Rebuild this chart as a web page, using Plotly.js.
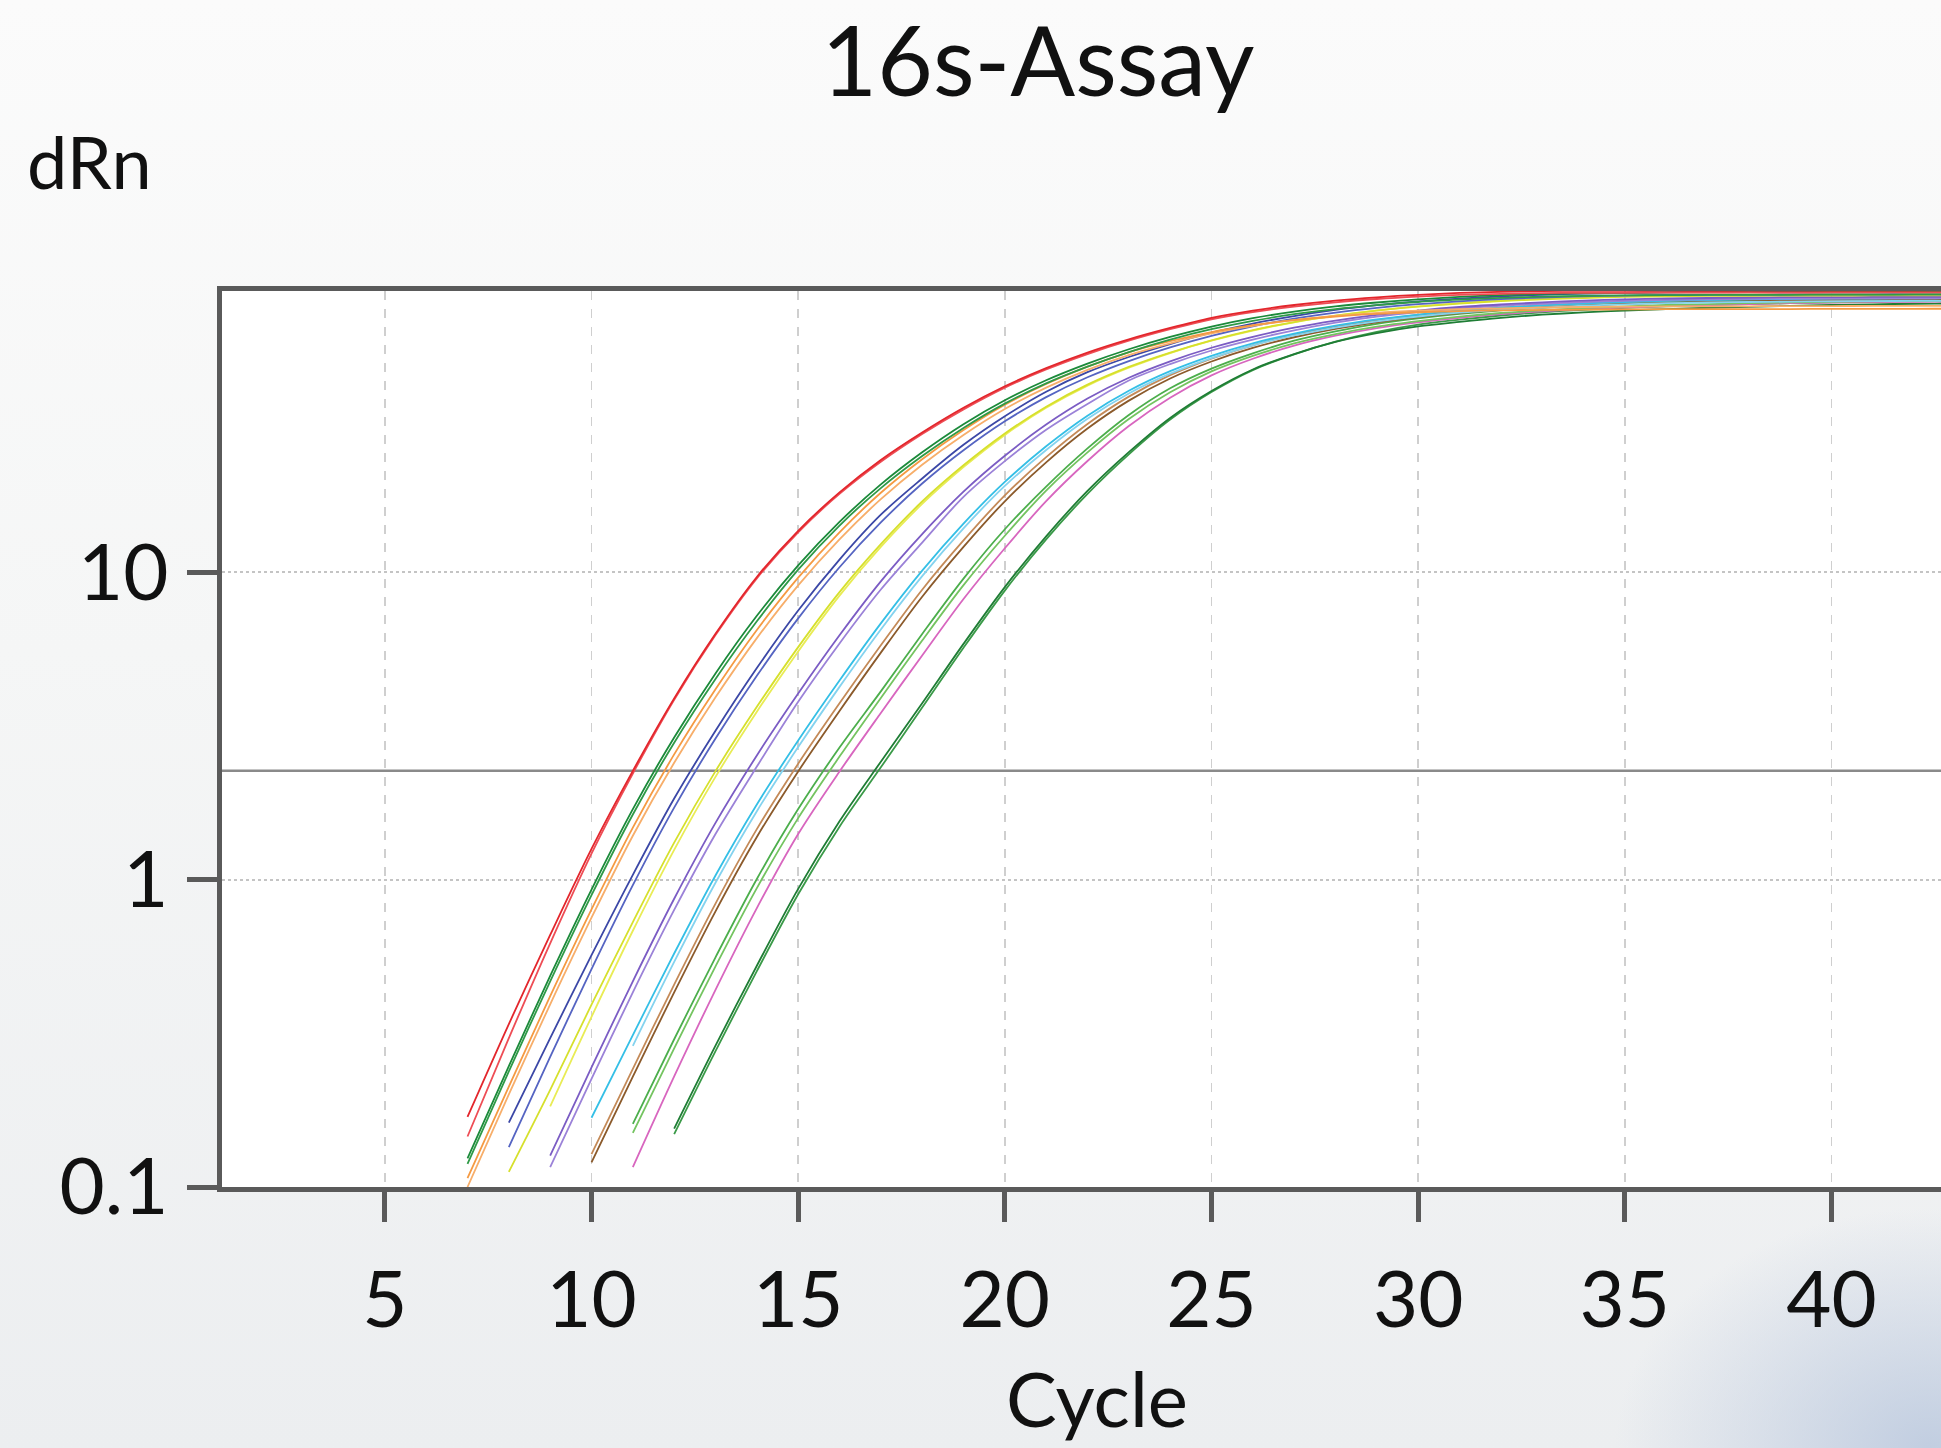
<!DOCTYPE html>
<html>
<head>
<meta charset="utf-8">
<script src="https://cdn.plot.ly/plotly-3.0.1.min.js"></script>
<style>
html, body { margin: 0; padding: 0; overflow: hidden; width: 1941px; height: 1448px; }
body {
  background:
    radial-gradient(ellipse 420px 320px at 1930px 1448px, rgba(186,200,222,0.85), rgba(186,200,222,0) 75%),
    linear-gradient(180deg, #fbfbfb 0%, #f5f6f6 45%, #eceef0 100%);
}
#chart { width: 2100px; height: 1448px; }
</style>
</head>
<body>
<div id="chart"></div>
<script>
// ---- data (dRn per cycle) ----
const cycleEnd = 44;
const threshold = 2.26;
const xTicks = [5, 10, 15, 20, 25, 30, 35, 40];
const xTickText = ['5', '10', '15', '20', '25', '30', '35', '40'];
const yTicks = [0.1, 1, 10];
const yTickText = ['0.1', '1', '10'];

const redA = [0.169,0.339,0.661,1.26,2.26,3.89,6.31,9.66,13.65,18.2,23.2,28.5,34.3,40.3,46.2,51.9,57.3,62.4,67.3,71.1,74.1,76.6,78.5,80.0,81.1,81.8,82.2,82.4,82.4,82.5,82.4,82.5,82.6,82.5,82.6,82.6,82.7,82.7];
const redB = [0.146,0.305,0.621,1.216,2.215,3.85,6.25,9.56,13.5,18.0,22.9,28.2,33.9,39.9,45.7,51.3,56.7,61.8,66.6,70.3,73.2,75.6,77.5,78.9,79.9,80.6,81.0,81.2,81.2,81.3,81.3,81.4,81.3,81.4,81.4,81.5,81.4,81.5];
const greenA = [0.124,0.2475,0.486,0.928,1.696,2.903,4.69,7.22,10.53,14.59,19.33,24.59,30.35,36.31,42.17,47.76,53.19,58.33,63.06,67.14,70.56,73.34,75.5,77.3,78.7,79.8,80.5,80.9,81.2,81.4,81.5,81.6,81.6,81.7,81.7,81.8,81.8,81.8];
const greenB = [0.119,0.238,0.467,0.891,1.63,2.79,4.50,6.93,10.2,14.2,18.8,23.9,29.5,35.4,41.2,46.7,52.1,57.2,61.8,65.8,69.2,71.9,74.0,75.8,77.1,78.2,78.9,79.3,79.6,79.8,79.9,80.0,80.0,80.1,80.1,80.2,80.2,80.2];
const orangeA = [0.1068,0.2123,0.4176,0.80,1.477,2.556,4.166,6.495,9.61,13.5,18.15,23.34,29.03,35.1,41.0,46.7,52.0,56.5,60.5,63.7,66.2,68.0,69.3,70.2,70.8,71.2,71.4,71.6,71.7,71.8,71.8,71.9,71.9,72.0,72.0,72.0,72.1,72.1];
const orangeB = [0.100,0.200,0.393,0.752,1.39,2.40,3.92,6.11,9.07,12.8,17.3,22.4,28.0,34.0,39.9,45.6,50.9,55.6,59.9,63.4,66.2,68.3,69.9,71.0,71.8,72.3,72.7,73.0,73.2,73.3,73.4,73.4,73.5,73.5,73.6,73.6,73.6,73.7];
const blueA = [0.162,0.305,0.568,1.037,1.836,3.05,4.88,7.51,11.0,15.4,20.2,26.0,32.2,38.7,44.8,50.2,55.3,60.2,64.5,68.2,71.4,74.0,76.1,77.7,79.0,80.0,80.7,81.1,81.5,81.6,81.7,81.8,81.8,81.9,81.9,81.9,81.9];
const blueB = [0.1348,0.2649,0.5116,0.9598,1.716,2.88,4.607,7.084,10.39,14.53,19.45,24.96,31.0,37.17,43.12,48.7,53.95,58.82,63.2,66.9,70.0,72.55,74.6,76.2,77.45,78.4,79.1,79.55,79.9,80.0,80.1,80.2,80.2,80.3,80.3,80.3,80.3];
const yellowA = [0.112,0.207,0.392,0.728,1.32,2.255,3.65,5.71,8.62,12.35,17.0,22.3,28.3,34.6,40.8,46.6,51.9,56.9,61.4,65.2,68.4,71.1,73.2,74.9,76.3,77.3,78.1,78.7,79.1,79.3,79.4,79.5,79.5,79.6,79.6,79.6,79.6];
const yellowB = [0.183,0.358,0.682,1.25,2.16,3.52,5.53,8.40,12.1,16.7,22.0,28.0,34.3,40.5,46.3,51.7,56.7,61.2,65.1,68.4,71.2,73.4,75.2,76.6,77.7,78.6,79.2,79.7,80.0,80.2,80.3,80.4,80.4,80.5,80.5,80.5];
const purpleA = [0.1265,0.2449,0.4671,0.8666,1.530,2.536,4.033,6.242,9.348,13.32,18.30,23.95,30.26,36.77,42.97,48.6,53.8,58.4,62.5,65.9,68.8,71.1,73.0,74.4,75.6,76.6,77.3,77.8,78.1,78.4,78.6,78.6,78.7,78.7,78.8,78.8];
const purpleB = [0.116,0.225,0.430,0.797,1.408,2.333,3.79,5.87,8.79,12.5,17.6,23.0,29.1,35.3,42.1,47.6,52.7,57.2,61.3,64.9,67.9,70.3,72.2,73.7,74.8,75.8,76.5,77.0,77.3,77.6,77.8,77.8,77.9,77.9,78.0,78.0];
const cyanA = [0.168,0.312,0.575,1.032,1.757,2.836,4.445,6.822,10.13,14.41,19.69,25.72,32.35,38.97,45.13,50.63,55.6,59.84,63.5,66.5,69.0,71.0,72.65,73.9,74.95,75.8,76.4,76.9,77.25,77.5,77.7,77.8,77.9,77.95,78.0];
const cyanB = [0.288,0.54,0.977,1.67,2.70,4.24,6.52,9.72,13.9,19.1,25.0,31.6,38.2,44.3,49.8,54.8,59.0,62.6,65.6,68.0,70.0,71.5,72.7,73.7,74.5,75.1,75.5,75.8,76.0,76.2,76.3,76.4,76.4,76.5];
const brownA = [0.1202,0.2287,0.4299,0.789,1.377,2.25,3.539,5.479,8.329,12.1,17.03,22.8,29.37,36.2,42.74,48.53,53.73,58.2,62.0,65.1,67.7,69.8,71.5,72.8,73.9,74.7,75.4,76.0,76.4,76.7,77.0,77.1,77.2,77.3,77.3];
const brownB = [0.128,0.2424,0.4557,0.836,1.46,2.385,3.75,5.79,8.78,12.7,17.8,23.7,30.4,37.3,43.8,49.6,54.8,59.3,63.1,66.2,68.8,70.9,72.6,73.9,75.0,75.8,76.5,77.1,77.5,77.8,78.1,78.2,78.3,78.4,78.4];
const ltGreenA = [0.1605,0.3025,0.559,1.005,1.697,2.691,4.098,6.30,9.54,13.81,19.0,25.3,32.5,39.7,46.0,51.6,56.7,60.8,64.3,67.0,69.3,71.2,72.6,73.8,74.8,75.6,76.1,76.6,77.1,77.4,77.7,77.8,78.0,78.1];
const ltGreenB = [0.150,0.2827,0.5223,0.939,1.586,2.515,3.903,5.999,9.085,13.15,18.45,24.57,31.54,38.53,45.05,50.6,55.6,59.6,63.0,65.65,67.95,69.8,71.2,72.4,73.3,74.1,74.6,75.1,75.6,75.9,76.2,76.3,76.5,76.6];
const pink = [0.116,0.229,0.438,0.808,1.408,2.248,3.487,5.366,8.19,11.98,17.05,23.03,29.93,37.01,43.74,49.54,54.65,58.86,62.35,65.05,67.3,69.2,70.7,71.8,72.75,73.5,74.1,74.6,75.1,75.45,75.7,75.9,76.0,76.1];
const dkGreenA = [0.1549,0.2884,0.5248,0.9333,1.549,2.42,3.75,5.85,8.95,13.1,18.4,24.6,31.8,38.9,45.7,51.3,56.2,60.0,63.1,65.3,67.3,68.9,70.1,71.1,71.9,72.6,73.1,73.6,74.1,74.5,74.8,75.0,75.2];
const dkGreenB = [0.1487,0.2769,0.5038,0.896,1.487,2.32,3.63,5.68,8.72,12.8,18.0,24.2,31.4,38.6,45.5,51.2,56.3,60.6,64.0,66.4,68.5,70.2,71.5,72.5,73.3,74.0,74.6,75.1,75.6,76.0,76.3,76.5,76.7];

// first cycle of each well's plotted curve
const series = [
  {name: 'Well 21', start: 12, values: dkGreenB},
  {name: 'Well 20', start: 12, values: dkGreenA},
  {name: 'Well 19', start: 11, values: pink},
  {name: 'Well 18', start: 11, values: ltGreenB},
  {name: 'Well 17', start: 11, values: ltGreenA},
  {name: 'Well 16', start: 10, values: brownB},
  {name: 'Well 15', start: 10, values: brownA},
  {name: 'Well 14', start: 11, values: cyanB},
  {name: 'Well 13', start: 10, values: cyanA},
  {name: 'Well 12', start: 9,  values: purpleB},
  {name: 'Well 11', start: 9,  values: purpleA},
  {name: 'Well 10', start: 9,  values: yellowB},
  {name: 'Well 9',  start: 8,  values: yellowA},
  {name: 'Well 8',  start: 8,  values: blueB},
  {name: 'Well 7',  start: 8,  values: blueA},
  {name: 'Well 6',  start: 7,  values: orangeB},
  {name: 'Well 5',  start: 7,  values: orangeA},
  {name: 'Well 4',  start: 7,  values: greenB},
  {name: 'Well 3',  start: 7,  values: greenA},
  {name: 'Well 2',  start: 7,  values: redB},
  {name: 'Well 1',  start: 7,  values: redA}
];

// ---- styles ----
const lineColors = {
  'Well 1': '#e3262c', 'Well 2': '#ee4d55',
  'Well 3': '#1b8a3a', 'Well 4': '#2f9a47',
  'Well 5': '#f59a42', 'Well 6': '#f7ae6a',
  'Well 7': '#3b47a6', 'Well 8': '#5564c2',
  'Well 9': '#d6e02c', 'Well 10': '#e9ec55',
  'Well 11': '#7b5cc4', 'Well 12': '#9b82d8',
  'Well 13': '#34bfe6', 'Well 14': '#84d3ef',
  'Well 15': '#8b5a2b', 'Well 16': '#c48a58',
  'Well 17': '#4cae4c', 'Well 18': '#74c460',
  'Well 19': '#d866bf',
  'Well 20': '#1f7d35', 'Well 21': '#3a9a48'
};

const traces = series.map(s => ({
  type: 'scatter',
  mode: 'lines',
  name: s.name,
  x: s.values.map((_, i) => s.start + i),
  y: s.values,
  line: {color: lineColors[s.name], width: 1.8, shape: 'spline', smoothing: 0.9},
  hoverinfo: 'skip'
}));

traces.unshift({
  type: 'scatter',
  mode: 'lines',
  name: 'Threshold',
  x: [1, cycleEnd],
  y: [threshold, threshold],
  line: {color: '#8a8a8a', width: 2.5},
  hoverinfo: 'skip'
});

const axisGray = '#5a5a5a';
const layout = {
  width: 2100,
  height: 1448,
  margin: {l: 221.5, r: 128, t: 290.5, b: 261},
  paper_bgcolor: 'rgba(0,0,0,0)',
  plot_bgcolor: '#ffffff',
  showlegend: false,
  font: {family: 'Lato, "Open Sans", sans-serif', color: '#111111'},
  title: {
    text: '16s-Assay',
    font: {size: 96, color: '#111111'},
    xref: 'container', x: 1038 / 2100, xanchor: 'center',
    yref: 'container', y: 1 - 62 / 1448, yanchor: 'middle'
  },
  xaxis: {
    range: [1.06, 43.4],
    tickmode: 'array', tickvals: xTicks, ticktext: xTickText,
    ticks: 'outside', ticklen: 30, tickwidth: 5, tickcolor: axisGray,
    showline: true, linewidth: 5, linecolor: axisGray, mirror: true,
    showgrid: true, gridcolor: '#cfcfcf', gridwidth: 1.5, griddash: 'dash',
    zeroline: false,
    tickfont: {size: 78, color: '#111111'},
    ticklabelstandoff: 11,
    title: {text: 'Cycle', font: {size: 76, color: '#111111'}, standoff: 33},
    automargin: false
  },
  yaxis: {
    type: 'log',
    range: [-1, 1.9154],
    tickmode: 'array', tickvals: yTicks, ticktext: yTickText,
    ticks: 'outside', ticklen: 30, tickwidth: 5, tickcolor: axisGray,
    showline: true, linewidth: 5, linecolor: axisGray, mirror: true,
    showgrid: true, gridcolor: '#c4c4c4', gridwidth: 2, griddash: 'dot',
    zeroline: false,
    tickfont: {size: 78, color: '#111111'},
    ticklabelstandoff: 3,
    automargin: false
  },
  annotations: [{
    text: 'dRn',
    xref: 'paper', yref: 'paper',
    x: (24 - 221.5) / 1750.5, y: 1.145,
    xanchor: 'left', yanchor: 'middle',
    showarrow: false,
    font: {size: 72, color: '#111111'}
  }]
};

Plotly.newPlot('chart', traces, layout, {staticPlot: true, displayModeBar: false});
</script>
</body>
</html>
